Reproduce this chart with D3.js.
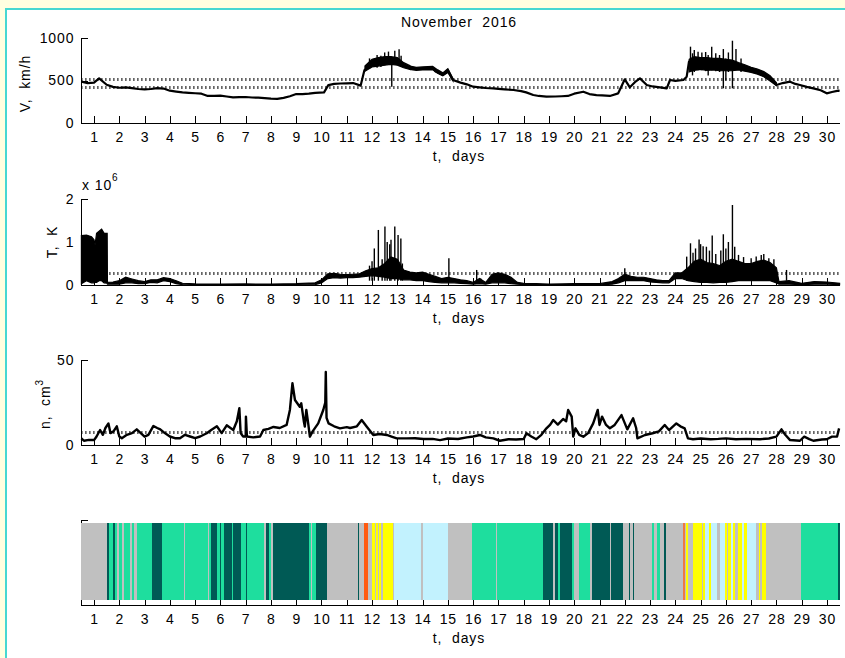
<!DOCTYPE html>
<html>
<head>
<meta charset="utf-8">
<script src="https://cdn.jsdelivr.net/npm/d3@7"></script>
<style>
body { margin: 0; background: #fff; }
text { font-family: "Liberation Sans", Arial, sans-serif; font-size: 14px; letter-spacing: 0.9px; fill: #000; white-space: pre; }
</style>
</head>
<body>
<div id="chart"></div>
<script>
"use strict";
var TITLE = "November  2016";
var X_LABEL = "t,  days";
var DAY_TICKS = [1, 2, 3, 4, 5, 6, 7, 8, 9, 10, 11, 12, 13, 14, 15, 16, 17, 18, 19, 20, 21, 22, 23, 24, 25, 26, 27, 28, 29, 30];

// V, km/h : [day, value]
var speedLine = [
    [0.5, 486], [0.75, 470], [1.0, 475], [1.2, 525], [1.5, 450], [1.75, 425], [2.0, 415], [2.25, 420],
    [2.5, 410], [2.75, 400], [3.0, 396], [3.25, 400], [3.5, 410], [3.75, 405], [4.0, 380], [4.25, 370],
    [4.5, 361], [4.75, 355], [5.0, 350], [5.25, 345], [5.5, 318], [5.75, 320], [6.0, 321], [6.25, 312],
    [6.5, 302], [6.75, 305], [7.0, 306], [7.25, 300], [7.5, 298], [7.75, 292], [8.0, 286], [8.25, 284],
    [8.5, 295], [8.75, 315], [9.0, 341], [9.25, 340], [9.5, 345], [9.75, 355], [10.1, 360], [10.27, 445],
    [10.5, 460], [10.75, 465], [11.0, 467], [11.25, 470], [11.55, 440], [11.7, 623], [12.0, 690], [12.25, 710],
    [12.5, 720], [12.75, 730], [13.0, 720], [13.25, 680], [13.5, 650], [13.75, 635], [14.0, 640], [14.25, 645],
    [14.42, 643], [14.5, 610], [14.8, 565], [15.0, 620], [15.2, 506], [15.5, 475], [15.75, 455], [16.0, 427],
    [16.25, 420], [16.5, 412], [16.8, 408], [17.0, 402], [17.25, 396], [17.6, 388], [17.9, 375], [18.1, 360],
    [18.38, 329], [18.6, 318], [18.9, 310], [19.25, 312], [19.5, 315], [19.75, 318], [20.0, 345], [20.36, 368],
    [20.6, 340], [20.88, 329], [21.1, 325], [21.41, 318], [21.74, 349], [22.0, 514], [22.2, 420], [22.4, 480],
    [22.6, 525], [22.87, 447], [23.1, 430], [23.39, 420], [23.66, 408], [23.79, 506], [24.0, 495], [24.32, 506],
    [24.45, 545], [24.54, 721], [24.75, 700], [25.0, 700], [25.25, 690], [25.5, 690], [25.75, 680], [26.0, 680],
    [26.36, 662], [26.6, 650], [26.8, 635], [27.0, 625], [27.35, 604], [27.6, 560], [27.8, 500], [28.0, 447],
    [28.25, 470], [28.54, 486], [28.75, 460], [28.93, 447], [29.2, 425], [29.46, 408], [29.75, 385], [29.99, 349],
    [30.2, 365], [30.45, 380], [30.5, 378]
];
// noisy band of V during the fast streams : [day, low, high]
var speedBandA = [
    [11.72, 610, 670], [12.0, 660, 750], [12.25, 670, 770], [12.5, 680, 780], [12.75, 690, 780],
    [13.0, 680, 770], [13.25, 650, 710], [13.5, 630, 675]
];
var speedBandC = [
    [13.5, 630, 670], [13.75, 620, 655], [14.0, 625, 660], [14.4, 625, 665], [14.6, 585, 625],
    [14.8, 555, 590], [15.0, 595, 640], [15.2, 495, 525]
];
var speedBandB = [
    [24.55, 600, 750], [24.75, 620, 780], [25.0, 630, 770], [25.25, 620, 770], [25.5, 625, 760],
    [25.75, 615, 760], [26.0, 615, 750], [26.25, 615, 740], [26.5, 625, 710], [26.75, 610, 685],
    [27.0, 595, 655], [27.25, 575, 635], [27.5, 545, 605], [27.75, 495, 555], [28.0, 440, 475]
];
var speedSpikes = [
    [11.9, 640, 760], [12.2, 650, 800], [12.35, 660, 790], [12.5, 680, 830], [12.65, 690, 840], [12.78, 427, 720],
    [12.9, 700, 850], [13.07, 700, 867], [13.15, 660, 790],
    [24.6, 640, 898], [24.75, 600, 860], [24.9, 620, 839], [25.05, 620, 830], [25.2, 610, 835], [25.3, 560, 800],
    [25.44, 620, 898], [25.6, 610, 820], [25.9, 408, 870], [26.0, 500, 760], [26.1, 600, 830], [26.26, 408, 968],
    [26.4, 620, 870], [24.68, 560, 820], [25.75, 600, 800], [26.6, 600, 760]
];
var speedLevels = [425, 520];

// T, x10^6 K : [day, low, high]
var tempBand = [
    [0.5, 0.03, 1.15], [0.7, 0.1, 1.16], [0.9, 0.05, 1.12], [1.0, 0.05, 1.05], [1.04, 0.06, 0.93], [1.1, 0.06, 1.2],
    [1.2, 0.1, 1.25], [1.3, 0.1, 1.3], [1.4, 0.05, 1.2], [1.52, 0.04, 1.2], [1.53, 0.02, 0.06], [1.75, 0.02, 0.07],
    [2.0, 0.02, 0.1], [2.25, 0.05, 0.18], [2.5, 0.05, 0.14], [2.75, 0.03, 0.1], [3.0, 0.03, 0.08], [3.25, 0.06, 0.12],
    [3.5, 0.05, 0.12], [3.75, 0.1, 0.17], [4.0, 0.08, 0.15], [4.25, 0.03, 0.1], [4.5, 0.01, 0.04], [5.0, 0.005, 0.025],
    [6.0, 0.005, 0.02], [7.0, 0.005, 0.025], [8.0, 0.005, 0.02], [9.0, 0.005, 0.03], [9.75, 0.01, 0.05],
    [10.0, 0.05, 0.12], [10.25, 0.15, 0.26], [10.5, 0.17, 0.27], [10.75, 0.16, 0.25], [11.0, 0.17, 0.24],
    [11.25, 0.17, 0.25], [11.5, 0.18, 0.26], [11.75, 0.2, 0.33], [12.0, 0.22, 0.38], [12.25, 0.2, 0.4],
    [12.5, 0.18, 0.5], [12.75, 0.15, 0.65], [13.0, 0.15, 0.6], [13.25, 0.12, 0.35], [13.5, 0.12, 0.3],
    [13.75, 0.1, 0.28], [14.0, 0.1, 0.3], [14.25, 0.08, 0.25], [14.5, 0.06, 0.2], [14.75, 0.05, 0.15],
    [15.0, 0.05, 0.18], [15.25, 0.05, 0.15], [15.5, 0.04, 0.12], [15.75, 0.03, 0.1], [16.0, 0.02, 0.06],
    [16.25, 0.03, 0.15], [16.5, 0.02, 0.06], [16.75, 0.05, 0.25], [17.0, 0.05, 0.28], [17.25, 0.05, 0.25],
    [17.5, 0.03, 0.18], [17.75, 0.02, 0.06], [18.0, 0.01, 0.04], [18.5, 0.005, 0.03], [19.0, 0.005, 0.02],
    [20.0, 0.005, 0.03], [21.0, 0.005, 0.03], [21.5, 0.02, 0.08], [21.75, 0.05, 0.15], [22.0, 0.1, 0.25],
    [22.25, 0.1, 0.2], [22.5, 0.1, 0.18], [22.75, 0.1, 0.18], [23.0, 0.07, 0.15], [23.25, 0.06, 0.12],
    [23.5, 0.05, 0.1], [23.75, 0.05, 0.1], [24.0, 0.15, 0.28], [24.25, 0.15, 0.28], [24.5, 0.1, 0.4],
    [24.75, 0.08, 0.55], [25.0, 0.06, 0.6], [25.25, 0.06, 0.52], [25.5, 0.05, 0.5], [25.75, 0.06, 0.45],
    [26.0, 0.06, 0.55], [26.25, 0.08, 0.6], [26.5, 0.1, 0.55], [26.75, 0.1, 0.5], [27.0, 0.1, 0.5],
    [27.25, 0.1, 0.55], [27.5, 0.1, 0.58], [27.75, 0.1, 0.52], [28.0, 0.05, 0.4], [28.1, 0.02, 0.08],
    [28.5, 0.02, 0.1], [29.0, 0.01, 0.04], [29.5, 0.02, 0.08], [30.0, 0.02, 0.07], [30.5, 0.01, 0.04]
];
var tempSpikes = [
    [11.9, 0.45], [12.0, 0.55], [12.09, 0.85], [12.25, 1.28], [12.4, 0.6], [12.51, 1.36], [12.6, 1.0],
    [12.7, 0.95], [12.75, 1.05], [12.9, 1.36], [13.03, 1.16], [13.14, 1.08], [13.2, 0.5], [15.04, 0.62],
    [16.14, 0.35], [16.3, 0.15], [20.0, 0.1], [22.0, 0.39], [24.45, 0.66], [24.6, 0.97], [24.7, 0.75],
    [24.8, 0.85], [24.94, 1.06], [25.0, 0.95], [25.1, 0.9], [25.23, 0.89], [25.35, 0.8], [25.46, 1.15],
    [25.6, 0.72], [25.8, 0.8], [25.9, 1.18], [26.0, 0.85], [26.1, 1.0], [26.26, 1.86], [26.35, 0.89],
    [26.5, 0.7], [26.7, 0.65], [27.0, 0.62], [27.2, 0.66], [27.4, 0.7], [27.5, 0.72], [27.7, 0.62],
    [27.9, 0.6], [28.4, 0.35]
];
var tempLevels = [0.27];

// n, cm^-3 : [day, value]
var densLine = [
    [0.5, 3.9], [0.6, 2.5], [0.8, 3], [1.0, 2.9], [1.1, 5], [1.24, 8.8], [1.35, 6], [1.45, 10], [1.57, 12.7],
    [1.65, 7], [1.77, 8], [1.9, 11], [2.0, 5], [2.1, 4], [2.3, 6], [2.5, 7], [2.69, 9.2], [2.85, 7], [3.0, 4.9],
    [3.15, 6], [3.35, 11.2], [3.5, 10], [3.62, 9.2], [3.8, 7], [4.0, 5], [4.2, 4], [4.4, 4], [4.6, 6], [4.8, 5],
    [5.0, 4], [5.2, 5], [5.46, 6.9], [5.65, 9], [5.86, 11], [6.05, 7], [6.25, 11.6], [6.4, 10], [6.51, 8.8],
    [6.65, 14], [6.75, 21.6], [6.8, 7], [6.9, 5], [7.0, 5], [7.01, 16.7], [7.05, 5], [7.3, 4.5], [7.57, 5],
    [7.7, 8.8], [7.9, 9.5], [8.1, 10.6], [8.35, 10], [8.62, 11.8], [8.75, 20.6], [8.85, 36.3], [8.95, 26.5],
    [9.14, 22.5], [9.2, 24.5], [9.3, 14], [9.34, 10.8], [9.4, 20.6], [9.48, 12], [9.54, 4.9], [9.65, 8],
    [9.87, 12.7], [10.07, 20.6], [10.15, 25], [10.17, 43], [10.2, 16], [10.28, 12.7], [10.5, 11], [10.73, 9.8],
    [11.0, 10.5], [11.13, 10], [11.4, 11], [11.59, 14.7], [11.8, 10.6], [12.05, 5.9], [12.3, 6.5], [12.58, 5.9],
    [12.8, 4.8], [12.98, 3.9], [13.37, 3.9], [13.7, 4], [14.03, 3.5], [14.4, 3.6], [14.69, 2.9], [15.0, 3.8],
    [15.4, 3.5], [15.75, 4.5], [16.0, 5], [16.27, 5.9], [16.5, 4.5], [16.8, 3.9], [17.06, 2.5], [17.4, 3.4],
    [17.7, 3.2], [18.0, 3.5], [18.11, 6.9], [18.3, 5], [18.5, 3.4], [18.7, 6], [18.9, 9.8], [19.05, 12],
    [19.17, 14.7], [19.35, 12], [19.56, 15.3], [19.68, 14], [19.76, 20.6], [19.9, 16.7], [19.96, 4.9],
    [20.05, 9.8], [20.2, 6], [20.36, 4.9], [20.55, 7], [20.75, 12.7], [20.93, 20.6], [21.0, 11.8], [21.1, 16.7],
    [21.25, 12], [21.41, 9.8], [21.6, 11.8], [21.87, 17.6], [22.1, 9.2], [22.33, 15.7], [22.45, 10], [22.5, 3.9],
    [22.8, 5.9], [23.1, 6.9], [23.35, 8], [23.58, 11.8], [23.75, 8.8], [24.04, 12.7], [24.2, 11], [24.37, 9.8],
    [24.5, 3.9], [24.7, 3.4], [25.0, 3.8], [25.4, 3.4], [25.7, 3.6], [26.0, 3.9], [26.4, 3.4], [26.8, 3.6],
    [27.35, 3.4], [27.7, 3.8], [28.0, 4.9], [28.2, 9.2], [28.35, 6], [28.54, 2.9], [28.93, 2.5], [29.1, 4.9],
    [29.3, 3.5], [29.46, 2.5], [29.8, 3.2], [29.99, 3.4], [30.2, 4.9], [30.4, 5], [30.48, 9.8]
];
var densLevels = [7.5];

// solar wind type strip
var regimeNames = ["G", "T", "D", "B", "Y", "R", "O"];
var regimeColors = ["#c0c0c0", "#1ede9e", "#005a55", "#c2f2fe", "#ffff00", "#ff5a10", "#f07840"];
var regimeStarts = [
    [0.5, "G"], [1.53, "D"], [1.58, "T"], [1.76, "D"], [1.84, "T"], [1.92, "G"], [1.98, "T"], [2.09, "G"],
    [2.19, "T"], [2.42, "G"], [2.49, "T"], [2.58, "G"], [2.71, "T"], [3.28, "D"], [3.70, "T"], [4.57, "G"],
    [4.60, "T"], [5.52, "G"], [5.56, "T"], [5.63, "D"], [5.88, "T"], [5.98, "D"], [6.02, "T"], [6.16, "D"],
    [6.45, "T"], [6.51, "D"], [6.80, "T"], [7.01, "D"], [7.04, "T"], [7.72, "G"], [7.79, "D"], [7.91, "T"],
    [7.99, "G"], [8.09, "D"], [9.52, "T"], [9.60, "G"], [9.63, "T"], [9.78, "D"], [10.23, "G"], [11.46, "D"],
    [11.50, "G"], [11.69, "R"], [11.85, "G"], [11.98, "Y"], [12.12, "G"], [12.16, "Y"], [12.24, "G"],
    [12.28, "Y"], [12.36, "G"], [12.44, "Y"], [12.84, "G"], [12.88, "B"], [13.92, "G"], [14.03, "B"],
    [15.0, "G"], [15.94, "T"], [16.9, "G"], [16.95, "T"], [18.77, "D"], [19.17, "G"], [19.23, "D"],
    [19.36, "T"], [19.43, "D"], [19.93, "T"], [20.0, "G"], [20.2, "T"], [20.61, "G"], [20.69, "D"],
    [21.41, "G"], [21.44, "D"], [21.91, "G"], [22.17, "D"], [22.22, "G"], [22.33, "D"], [22.38, "G"],
    [23.06, "T"], [23.16, "G"], [23.28, "T"], [23.39, "G"], [23.55, "D"], [23.63, "G"], [24.31, "O"],
    [24.39, "G"], [24.44, "Y"], [24.51, "G"], [24.68, "Y"], [25.04, "G"], [25.10, "Y"], [25.18, "B"],
    [25.34, "Y"], [25.43, "B"], [25.63, "G"], [25.76, "B"], [25.96, "Y"], [26.03, "G"], [26.09, "Y"],
    [26.19, "B"], [26.29, "Y"], [26.36, "G"], [26.49, "Y"], [26.62, "B"], [26.72, "Y"], [26.82, "B"],
    [27.21, "G"], [27.32, "Y"], [27.36, "G"], [27.41, "Y"], [27.58, "G"], [28.99, "T"], [30.44, "D"]
];
var regimeEnd = 30.5;

var width = 845, height = 658;
var svg = d3.select("#chart").append("svg")
    .attr("width", width)
    .attr("height", height);

// window frame
svg.append("rect").attr("width", width).attr("height", height).attr("fill", "#ffffe0");
svg.append("rect")
    .attr("x", 6).attr("y", 9)
    .attr("width", width + 4).attr("height", height + 4)
    .attr("fill", "#fff")
    .attr("stroke", "#46d8d2")
    .attr("stroke-width", 2);

var x = d3.scaleLinear().domain([0.5, 30.5]).range([81.4, 839.6]);

//top,bottom in pixels of each axes box
var panels = [
    { top: 38, bottom: 123, domain: [0, 1000], ticks: [0, 500, 1000], label: "V,  km/h", lx: 29.5, ly: 83.5 },
    { top: 199, bottom: 285, domain: [0, 2], ticks: [0, 1, 2], label: "T,  K", lx: 56.5, ly: 242 },
    { top: 360, bottom: 445, domain: [0, 50], ticks: [0, 50], label: "n,  cm", sup: "3", lx: 50, ly: 404 },
    { top: 520, bottom: 605, domain: [0, 1], ticks: [1], label: null }
];

function makeY(p) {
    return d3.scaleLinear().domain(p.domain).range([p.bottom, p.top]);
}

function drawAxes(p, y) {
    var g = svg.append("g");
    var gx = g.append("g")
        .attr("transform", "translate(0," + p.bottom + ")")
        .call(d3.axisBottom(x).tickValues(DAY_TICKS).tickSizeInner(-7).tickSizeOuter(0));
    gx.selectAll("text").attr("y", 19).attr("dy", null);
    var ya = d3.axisLeft(y).tickValues(p.ticks).tickSizeInner(-7).tickSizeOuter(0).tickPadding(7)
        .tickFormat(p.label ? d3.format("d") : "");
    g.append("g")
        .attr("transform", "translate(" + x.range()[0] + ",0)")
        .call(ya);
    g.selectAll(".domain, .tick line").attr("shape-rendering", "crispEdges");
    g.append("text")
        .attr("x", 459).attr("y", p.bottom + 37.5)
        .attr("text-anchor", "middle")
        .text(X_LABEL);
    if (p.label) {
        var t = g.append("text")
            .attr("transform", "translate(" + p.lx + "," + p.ly + ") rotate(-90)")
            .attr("text-anchor", "middle");
        t.append("tspan").text(p.label);
        if (p.sup) t.append("tspan").attr("dy", -7).style("font-size", "10px").text(p.sup);
    }
    return g;
}

function drawLevels(levels, y) {
    svg.append("g").selectAll("line")
        .data(levels).enter()
        .append("line")
        .attr("x1", x.range()[0]).attr("x2", x.range()[1])
        .attr("y1", function (d) { return Math.round(y(d)) + 0.5; })
        .attr("y2", function (d) { return Math.round(y(d)) + 0.5; })
        .attr("stroke", "#000")
        .attr("stroke-width", 3)
        .attr("stroke-dasharray", "1,3");
}

function drawBand(data, y) {
    var area = d3.area()
        .x(function (d) { return x(d[0]); })
        .y0(function (d) { return y(d[1]); })
        .y1(function (d) { return y(d[2]); });
    svg.append("path")
        .datum(data)
        .attr("d", area)
        .attr("fill", "#000")
        .attr("stroke", "#000")
        .attr("stroke-width", 1.2);
}

function drawLine(data, y, w) {
    var line = d3.line()
        .x(function (d) { return x(d[0]); })
        .y(function (d) { return y(d[1]); });
    svg.append("path")
        .datum(data)
        .attr("d", line)
        .attr("fill", "none")
        .attr("stroke", "#000")
        .attr("stroke-width", w)
        .attr("stroke-linejoin", "round");
}

function drawSpikes(data, y, base) {
    svg.append("g").selectAll("line")
        .data(data).enter()
        .append("line")
        .attr("x1", function (d) { return x(d[0]); })
        .attr("x2", function (d) { return x(d[0]); })
        .attr("y1", function (d) { return y(d.length > 2 ? d[1] : base); })
        .attr("y2", function (d) { return y(d.length > 2 ? d[2] : d[1]); })
        .attr("stroke", "#000")
        .attr("stroke-width", 1.4);
}

// speed
var yV = makeY(panels[0]);
drawAxes(panels[0], yV);
drawLevels(speedLevels, yV);
drawLine(speedLine, yV, 2.2);
drawBand(speedBandA, yV);
drawBand(speedBandC, yV);
drawBand(speedBandB, yV);
drawSpikes(speedSpikes, yV);
svg.append("text")
    .attr("x", 459).attr("y", 26.5)
    .attr("text-anchor", "middle")
    .text(TITLE);

// temperature
var yT = makeY(panels[1]);
drawAxes(panels[1], yT);
drawLevels(tempLevels, yT);
drawBand(tempBand, yT);
drawSpikes(tempSpikes, yT, 0.1);
var mult = svg.append("text").attr("x", 82).attr("y", 190);
mult.append("tspan").text("x 10");
mult.append("tspan").attr("dy", -9).style("font-size", "10px").text("6");

// density
var yN = makeY(panels[2]);
drawAxes(panels[2], yN);
drawLevels(densLevels, yN);
drawLine(densLine, yN, 2.4);

// regime strip, drawn over its axes
var yR = makeY(panels[3]);
drawAxes(panels[3], yR);
var regimes = regimeStarts.map(function (r, i) {
    var end = i + 1 < regimeStarts.length ? regimeStarts[i + 1][0] : regimeEnd;
    return { start: r[0], end: end, kind: r[1] };
});
var color = d3.scaleOrdinal().domain(regimeNames).range(regimeColors);
svg.append("g").selectAll("rect")
    .data(regimes).enter()
    .append("rect")
    .attr("x", function (d) { return x(d.start); })
    .attr("width", function (d) { return x(d.end) - x(d.start) + 0.3; })
    .attr("y", yR(0.965))
    .attr("height", yR(0.06) - yR(0.965))
    .attr("fill", function (d) { return color(d.kind); })
    .attr("shape-rendering", "crispEdges");
</script>
</body>
</html>
